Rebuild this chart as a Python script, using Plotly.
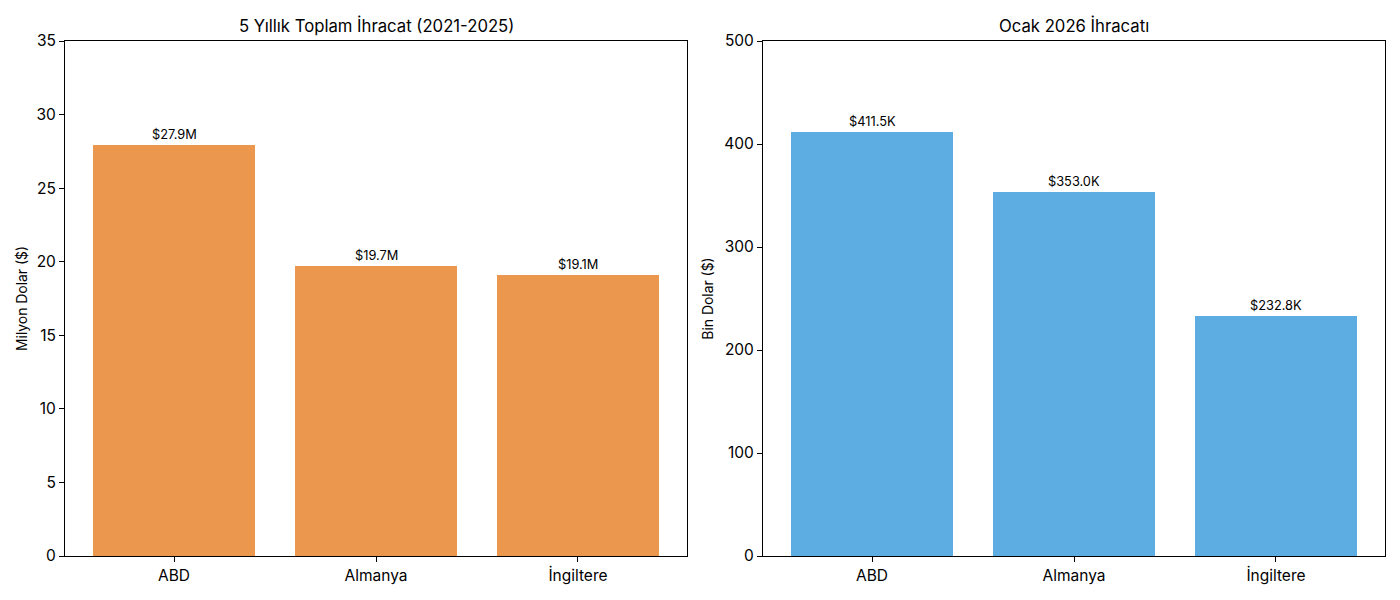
import plotly.graph_objects as go

countries = ["ABD", "Almanya", "İngiltere"]
total_5y = [27.9, 19.7, 19.1]          # million USD
jan_2026 = [411.5, 353.0, 232.8]       # thousand USD
labels_5y = ["$27.9M", "$19.7M", "$19.1M"]
labels_jan = ["$411.5K", "$353.0K", "$232.8K"]

W, H = 1400, 600
FONT = "Inter"
OFF = 8
L, R, T, B = 65 - OFF, 15 + OFF, 41 - OFF, 44 + OFF
PW = W - L - R
fig = go.Figure()

fig.add_trace(go.Bar(x=[0, 1, 2], y=total_5y, width=0.8, marker=dict(color="#EB984E", line=dict(width=0)),
                     xaxis="x", yaxis="y", showlegend=False, hoverinfo="skip"))
fig.add_trace(go.Bar(x=[0, 1, 2], y=jan_2026, width=0.8, marker=dict(color="#5DADE2", line=dict(width=0)),
                     xaxis="x2", yaxis="y2", showlegend=False, hoverinfo="skip"))

annotations = []
for i, (v, t) in enumerate(zip(total_5y, labels_5y)):
    annotations.append(dict(x=i, y=v, xref="x", yref="y", text=t, showarrow=False, yanchor="bottom",
                            xanchor="center", yshift=1, font=dict(family=FONT, size=12.8, color="black")))
for i, (v, t) in enumerate(zip(jan_2026, labels_jan)):
    annotations.append(dict(x=i, y=v, xref="x2", yref="y2", text=t, showarrow=False, yanchor="bottom",
                            xanchor="center", yshift=1, font=dict(family=FONT, size=12.8, color="black")))

d1 = [0, 622 / PW]
d2 = [(763 - 65) / PW, 1]
annotations.append(dict(x=sum(d1) / 2, y=1, xref="paper", yref="paper", xanchor="center", yanchor="bottom",
                        yshift=3, text="5 Yıllık Toplam İhracat (2021-2025)", showarrow=False,
                        font=dict(family=FONT, size=16.7, color="black")))
annotations.append(dict(x=sum(d2) / 2, y=1, xref="paper", yref="paper", xanchor="center", yanchor="bottom",
                        yshift=3, text="Ocak 2026 İhracatı", showarrow=False,
                        font=dict(family=FONT, size=16.7, color="black")))

common_x = dict(tickmode="array", tickvals=[0, 1, 2], ticktext=countries, range=[-0.54, 2.54],
                showline=True, linecolor="black", linewidth=1, mirror=True, ticks="outside",
                ticklen=5, tickcolor="black", showgrid=False, zeroline=False, automargin=False,
                tickfont=dict(family=FONT, size=15.5, color="black"))
common_y = dict(showline=True, linecolor="black", linewidth=1, mirror=True, ticks="outside",
                ticklen=5, tickcolor="black", showgrid=False, zeroline=False, automargin=False,
                tickfont=dict(family=FONT, size=15.5, color="black"))

fig.update_layout(
    width=W, height=H,
    margin=dict(l=L, r=R, t=T, b=B, autoexpand=False),
    paper_bgcolor="white", plot_bgcolor="white",
    font=dict(family=FONT, color="black"),
    bargap=0,
    xaxis=dict(domain=d1, anchor="y", **common_x),
    yaxis=dict(domain=[0, 1], anchor="x", range=[0, 35], dtick=5,
               title=dict(text="Milyon Dolar ($)", font=dict(family=FONT, size=13.9, color="black"), standoff=5),
               **common_y),
    xaxis2=dict(domain=d2, anchor="y2", **common_x),
    yaxis2=dict(domain=[0, 1], anchor="x2", range=[0, 500], dtick=100,
                title=dict(text="Bin Dolar ($)", font=dict(family=FONT, size=13.9, color="black"), standoff=7),
                **common_y),
    annotations=annotations,
)

fig.write_html("out.html")
